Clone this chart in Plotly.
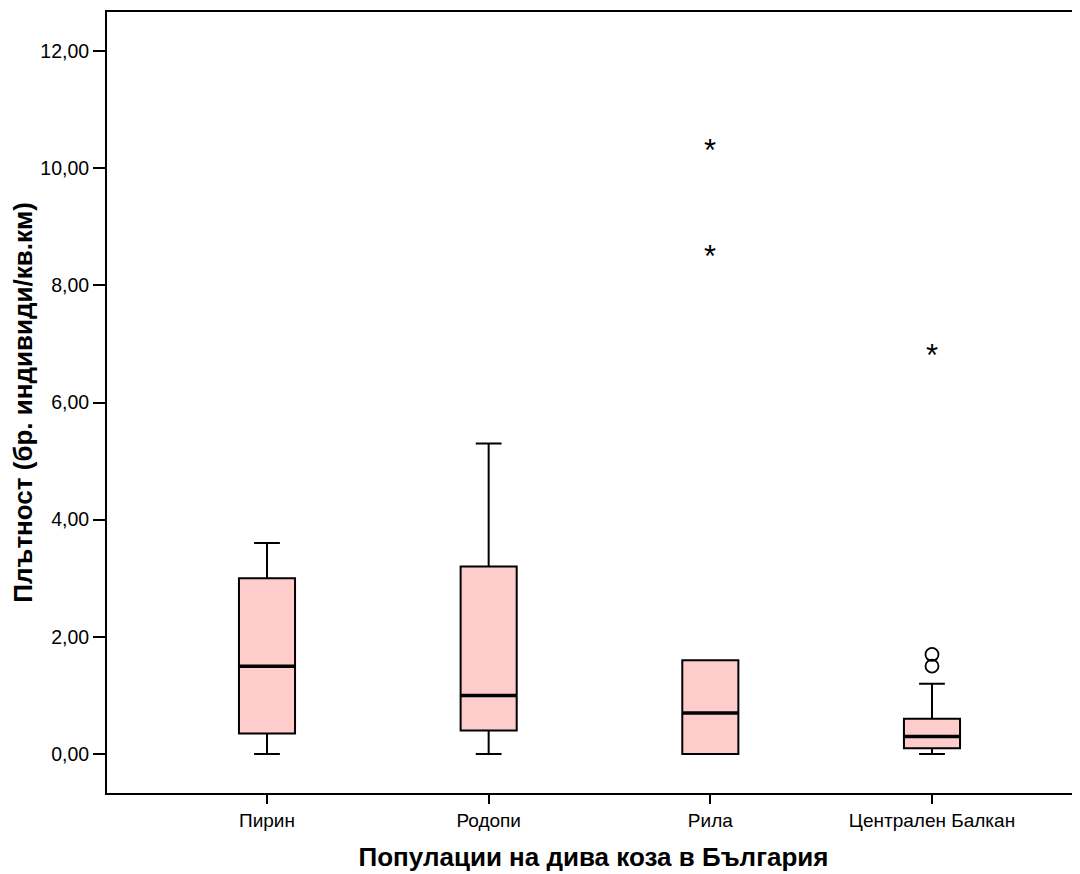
import plotly.graph_objects as go

# ---- data ----
categories = ["Пирин", "Родопи", "Рила", "Централен Балкан"]
q1_vals = [0.35, 0.40, 0.00, 0.10]
median_vals = [1.50, 1.00, 0.70, 0.30]
q3_vals = [3.00, 3.20, 1.60, 0.60]
lower_whisker = [0.00, 0.00, 0.00, 0.00]
upper_whisker = [3.60, 5.30, 1.60, 1.20]

# outliers (circles) and extremes (asterisks)
outlier_cat = [3, 3]
outlier_vals = [1.50, 1.70]
extreme_cat = [2, 2, 3]
extreme_vals = [8.60, 10.40, 6.90]

y_tick_vals = [0, 2, 4, 6, 8, 10, 12]
y_tick_text = ["0,00", "2,00", "4,00", "6,00", "8,00", "10,00", "12,00"]

BOX_WIDTH = 0.253
FONT = "Arial, 'Liberation Sans', sans-serif"

fig = go.Figure()

for i, cat in enumerate(categories):
    fig.add_trace(go.Box(
        x=[i],
        q1=[q1_vals[i]], median=[median_vals[i]], q3=[q3_vals[i]],
        lowerfence=[lower_whisker[i]], upperfence=[upper_whisker[i]],
        width=BOX_WIDTH, whiskerwidth=0.46,
        fillcolor="#FFCCCC",
        line=dict(color="black", width=2),
        boxpoints=False, showlegend=False, hoverinfo="skip",
        name=cat,
    ))
    # thicker median line
    fig.add_trace(go.Scatter(
        x=[i - BOX_WIDTH / 2, i + BOX_WIDTH / 2],
        y=[median_vals[i], median_vals[i]],
        mode="lines", line=dict(color="black", width=3.5),
        showlegend=False, hoverinfo="skip",
    ))

fig.add_trace(go.Scatter(
    x=outlier_cat, y=outlier_vals, mode="markers",
    marker=dict(symbol="circle-open", size=13, color="black", line=dict(width=1.8)),
    showlegend=False, hoverinfo="skip",
))

for xc, yv in zip(extreme_cat, extreme_vals):
    fig.add_annotation(
        x=xc, y=yv, xref="x", yref="y", text="*", showarrow=False,
        font=dict(family=FONT, size=31, color="black"),
        xanchor="center", yanchor="middle", yshift=-6,
    )

fig.update_layout(
    width=1072, height=866,
    margin=dict(l=99, r=0, t=4, b=81),
    paper_bgcolor="white", plot_bgcolor="white",
    font=dict(family=FONT, color="black"),
)

fig.update_xaxes(
    range=[-0.7218, 3.6677],
    tickmode="array", tickvals=list(range(len(categories))), ticktext=categories,
    ticks="outside", ticklen=9, tickwidth=2, tickcolor="black",
    showline=True, linecolor="black", linewidth=2, mirror=True,
    showgrid=False, zeroline=False,
    tickfont=dict(size=19, family=FONT),
    title=dict(text="<b>Популации на дива коза в България</b>",
               font=dict(size=26, family=FONT), standoff=18),
)

fig.update_yaxes(
    range=[-0.6657, 12.666],
    tickmode="array", tickvals=y_tick_vals, ticktext=y_tick_text,
    ticks="outside", ticklen=12, tickwidth=2, tickcolor="black",
    showline=True, linecolor="black", linewidth=2, mirror=False,
    showgrid=False, zeroline=False,
    tickfont=dict(size=19.5, family=FONT),
    ticklabelstandoff=0,
    title=dict(text="<b>Плътност (бр. индивиди/кв.км)</b>",
               font=dict(size=26, family=FONT), standoff=6),
)

fig.write_html("out.html")
